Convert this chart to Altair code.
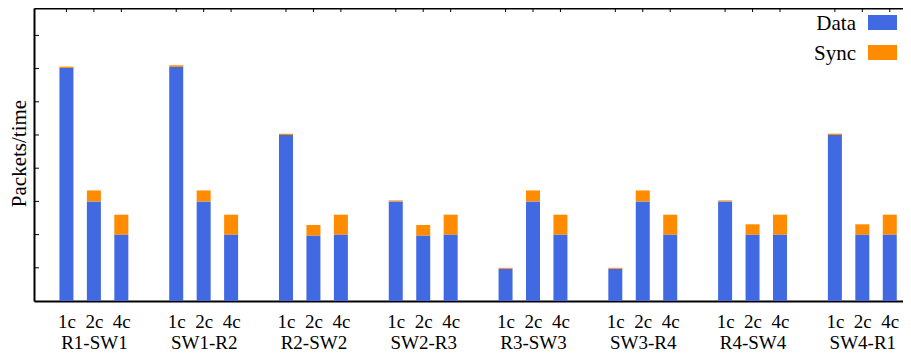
import altair as alt
import pandas as pd

groups = ["R1-SW1", "SW1-R2", "R2-SW2", "SW2-R3", "R3-SW3", "SW3-R4", "R4-SW4", "SW4-R1"]
configs = ["1c", "2c", "4c"]
series = ["Data", "Sync"]
colors = ["#4169E1", "#FF8C00"]

data_1c = [7.02, 7.05, 5.0, 3.0, 0.97, 0.97, 3.0, 5.0]
data_2c = [3.0, 3.0, 1.97, 1.97, 3.0, 3.0, 2.0, 2.0]
data_4c = [2.0, 2.0, 2.0, 2.0, 2.0, 2.0, 2.0, 2.0]
sync_1c = [0.04, 0.05, 0.04, 0.03, 0.03, 0.03, 0.03, 0.04]
sync_2c = [0.33, 0.33, 0.32, 0.32, 0.33, 0.33, 0.31, 0.31]
sync_4c = [0.6, 0.6, 0.6, 0.6, 0.6, 0.6, 0.6, 0.6]
y_ticks = [1, 2, 3, 4, 5, 6, 7, 8]

data_vals = [data_1c, data_2c, data_4c]
sync_vals = [sync_1c, sync_2c, sync_4c]

rows = []
for g, grp in enumerate(groups):
    for i, cfg in enumerate(configs):
        pos = g * 4 + i
        rows.append({"pos": pos, "group": grp, "config": cfg, "series": "Data", "order": 0, "value": data_vals[i][g]})
        rows.append({"pos": pos, "group": grp, "config": cfg, "series": "Sync", "order": 1, "value": sync_vals[i][g]})
df = pd.DataFrame(rows)
positions = sorted(df["pos"].unique().tolist())

FONT = "Liberation Serif"
W, H = 869, 293
xdom = [-1, 30.3]
ydom = [0, 8.825]

cfg_js = "[" + ",".join(f"'{c}'" for c in configs) + "]"
grp_js = "[" + ",".join(f"'{g}'" for g in groups) + "]"
label_expr = (f"datum.value % 4 == 1 ? [{cfg_js}[1], {grp_js}[floor(datum.value / 4)]]"
              f" : {cfg_js}[datum.value % 4]")

xscale = alt.Scale(domain=xdom, nice=False, zero=False)
yscale = alt.Scale(domain=ydom, nice=False, zero=True)

yaxis = alt.Axis(
    labels=False, ticks=False, tickSize=0, grid=False, domainColor="black", domainWidth=2,
    title="Packets/time", titleFont=FONT, titleFontSize=21, titleFontWeight="normal",
    titleColor="black", titleAngle=270, titleX=-9, titleY=145, titleBaseline="alphabetic",
    titleAlign="center")

bars = alt.Chart(df).mark_bar(size=14).encode(
    x=alt.X("pos:Q", scale=xscale, axis=alt.Axis(
        values=positions, labelExpr=label_expr, ticks=False, tickSize=0,
        labelPadding=11, labelFont=FONT, labelFontSize=19, labelColor="black",
        labelLineHeight=21, labelBaseline="top", labelAngle=0, labelFlush=False,
        labelOverlap=False, grid=False, domainColor="black", domainWidth=2, title=None)),
    y=alt.Y("value:Q", stack="zero", scale=yscale, axis=yaxis, title="Packets/time"),
    color=alt.Color("series:N", scale=alt.Scale(domain=series, range=colors), legend=None),
    order=alt.Order("order:Q"),
)

ytick_df = pd.DataFrame({"t": y_ticks})
yticks = alt.Chart(ytick_df).mark_rule(color="black", strokeWidth=1).encode(
    y=alt.Y("t:Q", scale=yscale, axis=yaxis, title="Packets/time"),
    x=alt.value(0), x2=alt.value(5),
)

ttick_df = pd.DataFrame({"p": positions})
topticks = alt.Chart(ttick_df).mark_rule(color="black", strokeWidth=1).encode(
    x=alt.X("p:Q", scale=xscale, axis=alt.Axis(
        orient="top", labels=False, ticks=False, tickSize=0, grid=False,
        domainColor="black", domainWidth=2, title=None, values=positions)),
    y=alt.value(0), y2=alt.value(4),
)

legend_layers = []
for k, (s, c) in enumerate(zip(series, colors)):
    ldf = pd.DataFrame({"name": [s]})
    legend_layers.append(alt.Chart(ldf).mark_rect(color=c).encode(
        x=alt.value(834), x2=alt.value(863),
        y=alt.value(7 + 30 * k), y2=alt.value(22 + 30 * k)))
    legend_layers.append(alt.Chart(ldf).mark_text(
        font=FONT, fontSize=21, color="black", align="right", baseline="alphabetic").encode(
        x=alt.value(822), y=alt.value(22 + 30 * k), text="name:N"))

chart = alt.layer(bars, yticks, topticks, *legend_layers).resolve_axis(x="independent").properties(
    width=W, height=H,
    autosize=alt.AutoSizeParams(type="none"),
    padding={"left": 26, "top": 0, "right": 0, "bottom": 53},
).configure_view(stroke=None)

chart.save("out.html", embed_options={"renderer": "svg", "actions": False})
